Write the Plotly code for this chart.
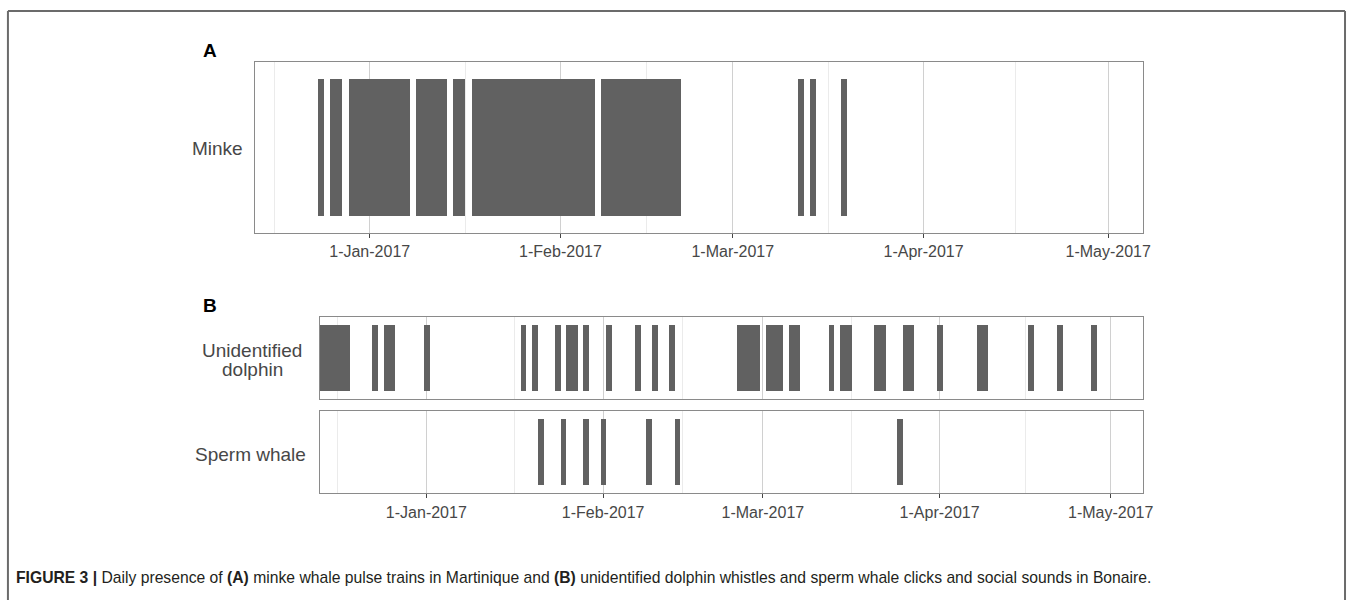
import pandas as pd
import plotly.graph_objects as go

# ---- data -------------------------------------------------------------
tick_dates = ["2017-01-01", "2017-02-01", "2017-03-01", "2017-04-01", "2017-05-01"]
tick_labels = ["1-Jan-2017", "1-Feb-2017", "1-Mar-2017", "1-Apr-2017", "1-May-2017"]
month_breaks = ["2016-12-01", "2017-01-01", "2017-02-01", "2017-03-01",
                "2017-04-01", "2017-05-01", "2017-06-01"]

# Runs of consecutive days with detections (first day, last day)
minke_start = ["2016-12-24", "2016-12-26", "2016-12-29", "2017-01-09", "2017-01-15",
               "2017-01-18", "2017-02-08", "2017-03-12", "2017-03-14", "2017-03-19"]
minke_end = ["2016-12-24", "2016-12-27", "2017-01-07", "2017-01-13", "2017-01-16",
             "2017-02-06", "2017-02-20", "2017-03-12", "2017-03-14", "2017-03-19"]

dolphin_start = ["2016-12-13", "2016-12-23", "2016-12-25", "2017-01-01", "2017-01-18",
                 "2017-01-20", "2017-01-24", "2017-01-26", "2017-01-29", "2017-02-02",
                 "2017-02-07", "2017-02-10", "2017-02-13", "2017-02-25", "2017-03-02",
                 "2017-03-06", "2017-03-13", "2017-03-15", "2017-03-21", "2017-03-26",
                 "2017-04-01", "2017-04-08", "2017-04-17", "2017-04-22", "2017-04-28"]
dolphin_end = ["2016-12-18", "2016-12-23", "2016-12-26", "2017-01-01", "2017-01-18",
               "2017-01-20", "2017-01-24", "2017-01-27", "2017-01-29", "2017-02-02",
               "2017-02-07", "2017-02-10", "2017-02-13", "2017-02-28", "2017-03-04",
               "2017-03-07", "2017-03-13", "2017-03-16", "2017-03-22", "2017-03-27",
               "2017-04-01", "2017-04-09", "2017-04-17", "2017-04-22", "2017-04-28"]

sperm_start = ["2017-01-21", "2017-01-25", "2017-01-29", "2017-02-01",
               "2017-02-09", "2017-02-14", "2017-03-25"]
sperm_end = ["2017-01-21", "2017-01-25", "2017-01-29", "2017-02-01",
             "2017-02-09", "2017-02-14", "2017-03-25"]

x_limits = ["2016-12-13 07:12", "2017-05-06 14:24"]

caption = ("<b>FIGURE 3 |</b> Daily presence of <b>(A)</b> minke whale pulse trains in "
           "Martinique and <b>(B)</b> unidentified dolphin whistles and sperm whale clicks "
           "and social sounds in Bonaire.")

# ---- styling ----------------------------------------------------------
W, H = 1358, 600
BAR = "#616161"
BORDER = "#8a8a8a"
GRID_MAJOR = "#d0d0d0"
GRID_MINOR = "#ebebeb"
TXT = "#474747"
SANS = "Liberation Sans, Arial, Helvetica, sans-serif"
DAY_MS = 86400000


def px_x(p):
    return p / W


def px_y(p):
    return 1 - p / H


def runs_trace(starts, ends, xa, ya):
    s = pd.to_datetime(pd.Series(starts))
    e = pd.to_datetime(pd.Series(ends))
    n_days = (e - s).dt.days + 1
    mid = s + (e - s) / 2
    return go.Bar(
        x=list(mid), y=[1] * len(s), base=0,
        width=list(n_days * DAY_MS),
        marker=dict(color=BAR, line=dict(width=0)),
        xaxis=xa, yaxis=ya, showlegend=False, hoverinfo="skip",
    )


breaks = pd.to_datetime(pd.Series(month_breaks))
minor_vals = list(breaks[:-1] + (breaks.shift(-1)[:-1] - breaks[:-1]) / 2)

fig = go.Figure()
fig.add_trace(runs_trace(minke_start, minke_end, "x", "y"))
fig.add_trace(runs_trace(dolphin_start, dolphin_end, "x2", "y2"))
fig.add_trace(runs_trace(sperm_start, sperm_end, "x3", "y3"))


def xaxis_cfg(domain, anchor, labels):
    return dict(
        type="date", domain=domain, anchor=anchor, range=x_limits,
        tickmode="array", tickvals=tick_dates, ticktext=tick_labels,
        showticklabels=labels, ticks="outside" if labels else "",
        ticklen=4, tickwidth=1, tickcolor="#444444",
        tickfont=dict(family=SANS, size=16, color=TXT),
        showgrid=True, gridcolor=GRID_MAJOR, gridwidth=1,
        minor=dict(tickmode="array", tickvals=minor_vals, showgrid=True,
                   gridcolor=GRID_MINOR, gridwidth=1, ticks=""),
        showline=True, mirror=True, linecolor=BORDER, linewidth=1,
        zeroline=False, fixedrange=True,
    )


def yaxis_cfg(domain, anchor):
    return dict(
        domain=domain, anchor=anchor, range=[-0.125, 1.125],
        showticklabels=False, ticks="", showgrid=False, zeroline=False,
        showline=True, mirror=True, linecolor=BORDER, linewidth=1, fixedrange=True,
    )


xa_dom = [px_x(256.7), px_x(1152)]
xb_dom = [px_x(322.3), px_x(1152)]

fig.update_layout(
    width=W, height=H,
    margin=dict(l=0, r=0, t=0, b=0),
    paper_bgcolor="white", plot_bgcolor="white",
    bargap=0, barmode="overlay",
    xaxis=xaxis_cfg(xa_dom, "y", True),
    yaxis=yaxis_cfg([px_y(232.7), px_y(61.7)], "x"),
    xaxis2=xaxis_cfg(xb_dom, "y2", False),
    yaxis2=yaxis_cfg([px_y(399), px_y(316.7)], "x2"),
    xaxis3=xaxis_cfg(xb_dom, "y3", True),
    yaxis3=yaxis_cfg([px_y(493.3), px_y(411)], "x3"),
)

label_font = dict(family=SANS, size=19, color=TXT)
panel_font = dict(family=SANS, size=19, color="#000000")

annotations = [
    dict(text="<b>A</b>", x=px_x(203), y=px_y(51), xanchor="left", yanchor="middle",
         font=panel_font),
    dict(text="<b>B</b>", x=px_x(203), y=px_y(305), xanchor="left", yanchor="middle",
         font=panel_font),
    dict(text="Minke", x=px_x(247), y=px_y(148), xanchor="right", yanchor="middle",
         font=label_font),
    dict(text="Unidentified", x=px_x(254.5), y=px_y(350), xanchor="center",
         yanchor="middle", font=label_font),
    dict(text="dolphin", x=px_x(254.5), y=px_y(369), xanchor="center",
         yanchor="middle", font=label_font),
    dict(text="Sperm whale", x=px_x(311), y=px_y(454), xanchor="right", yanchor="middle",
         font=label_font),
    dict(text=caption, x=px_x(14), y=px_y(577), xanchor="left", yanchor="middle",
         font=dict(family=SANS, size=15.7, color="#231f20")),
]
for a in annotations:
    a.update(xref="paper", yref="paper", showarrow=False)
fig.update_layout(annotations=annotations)

# Outer figure frame (open at the bottom edge of the page)
frame = dict(color="#6b6b6b", width=2)
fig.add_shape(type="line", xref="paper", yref="paper",
              x0=px_x(8), x1=px_x(1356), y0=px_y(11), y1=px_y(11), line=frame)
fig.add_shape(type="line", xref="paper", yref="paper",
              x0=px_x(8), x1=px_x(8), y0=px_y(11), y1=px_y(605), line=frame)
fig.add_shape(type="line", xref="paper", yref="paper",
              x0=px_x(1356), x1=px_x(1356), y0=px_y(11), y1=px_y(605), line=frame)

fig.write_html("out.html")
